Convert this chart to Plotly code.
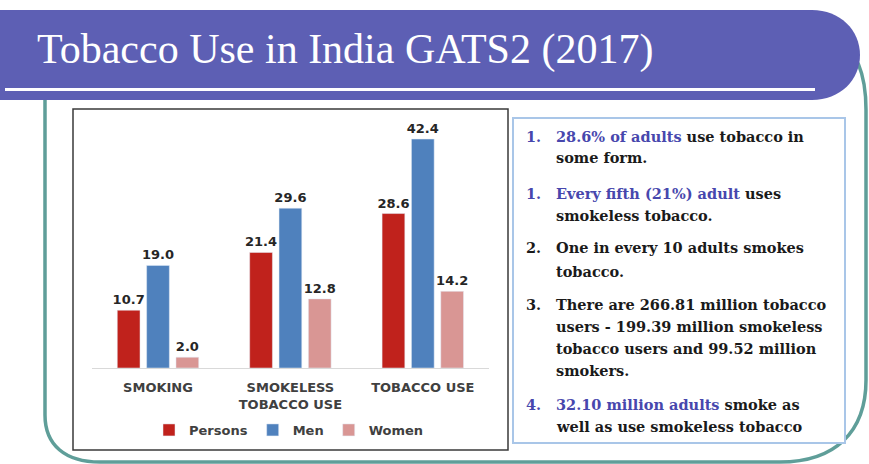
import plotly.graph_objects as go

W, H = 869, 464

# Chart data (GATS2 2017, % of adults)
categories = ["SMOKING", "SMOKELESS<br>TOBACCO USE", "TOBACCO USE"]
persons = [10.7, 21.4, 28.6]
men = [19.0, 29.6, 42.4]
women = [2.0, 12.8, 14.2]
series_names = ["Persons", "Men", "Women"]
series_colors = ["#c0221c", "#4f81bd", "#d99694"]

title_text = "Tobacco Use in India GATS2 (2017)"

BLUE = "#4747ad"
DARK = "#1a1a1a"

# Key findings: (number, number colour, list of lines)
findings = [
    ("1.", BLUE, [f"<span style='color:{BLUE}'>28.6% of adults</span> use tobacco in",
                  "some form."]),
    ("1.", BLUE, [f"<span style='color:{BLUE}'>Every fifth (21%) adult</span> uses",
                  "smokeless tobacco."]),
    ("2.", DARK, ["One in every 10 adults smokes",
                  "tobacco."]),
    ("3.", DARK, ["There are 266.81 million tobacco",
                  "users - 199.39 million smokeless",
                  "tobacco users and 99.52 million",
                  "smokers."]),
    ("4.", BLUE, [f"<span style='color:{BLUE}'>32.10 million adults</span> smoke as",
                  "well as use smokeless tobacco"]),
]
finding_line_y = [[136, 157], [193, 215], [248, 271], [304, 326, 348, 370], [404, 426]]


def px(x):
    return x / W


def py(y):
    return 1 - y / H


fig = go.Figure()
for name, vals, col in zip(series_names, [persons, men, women], series_colors):
    fig.add_trace(go.Bar(
        x=categories, y=vals, name=name, marker_color=col,
        texttemplate="%{y:.1f}", textposition="outside", constraintext="none",
        textfont=dict(family="DejaVu Sans", size=13, color="#262626", weight="bold"),
        cliponaxis=False,
    ))


# Slide decoration shapes (pixel coordinates converted to paper units)
def P(x, y):
    return f"{px(x):.5f},{py(y):.5f}"


teal_path = (f"M {P(45, 70)} L {P(45, 415)} C {P(45, 445)} {P(65, 462)} {P(100, 462)} "
             f"L {P(780, 462)} C {P(835, 462)} {P(866, 432)} {P(866, 380)} "
             f"L {P(866, 110)} C {P(866, 75)} {P(858, 50)} {P(830, 30)}")
banner_path = (f"M {P(0, 10)} L {P(812, 10)} C {P(840, 10)} {P(860, 30)} {P(860, 55)} "
               f"C {P(860, 80)} {P(840, 100)} {P(812, 100)} L {P(0, 100)} Z")

shapes = [
    dict(type="path", path=teal_path, xref="paper", yref="paper",
         line=dict(color="#5f9e99", width=3.5), layer="below"),
    dict(type="path", path=banner_path, xref="paper", yref="paper",
         fillcolor="#5d5fb4", line=dict(width=0), layer="below"),
    dict(type="rect", xref="paper", yref="paper", x0=px(5), x1=px(815), y0=py(88), y1=py(91),
         fillcolor="white", line=dict(width=0), layer="below"),
    dict(type="rect", xref="paper", yref="paper", x0=px(73), x1=px(508), y0=py(109), y1=py(450),
         fillcolor="white", line=dict(color="#3a3a3a", width=1.5), layer="below"),
    dict(type="rect", xref="paper", yref="paper", x0=px(513), x1=px(845), y0=py(118), y1=py(443),
         fillcolor="white", line=dict(color="#a9c6e8", width=2), layer="below"),
]

annotations = [
    dict(text=title_text, x=px(35), y=py(49), xref="paper", yref="paper",
         xanchor="left", yanchor="middle", showarrow=False,
         font=dict(family="Liberation Serif", size=42, color="white")),
]
for (num, numcol, lines), ys in zip(findings, finding_line_y):
    annotations.append(dict(text=f"<b>{num}</b>", x=px(524), y=py(ys[0]), xref="paper", yref="paper",
                            xanchor="left", yanchor="middle", showarrow=False,
                            font=dict(family="DejaVu Serif", size=14.5, color=numcol)))
    for ln, yy in zip(lines, ys):
        annotations.append(dict(text=f"<b>{ln}</b>", x=px(554), y=py(yy), xref="paper", yref="paper",
                                xanchor="left", yanchor="middle", showarrow=False,
                                font=dict(family="DejaVu Serif", size=14.5, color=DARK)))

fig.update_layout(
    width=W, height=H, margin=dict(l=0, r=0, t=0, b=0),
    paper_bgcolor="white", plot_bgcolor="rgba(0,0,0,0)",
    barmode="group", bargap=0.335, bargroupgap=0.225,
    shapes=shapes, annotations=annotations,
    showlegend=True,
    legend=dict(orientation="h", x=px(289), xanchor="center", y=py(430), yanchor="middle",
                itemwidth=30,
                font=dict(family="DejaVu Sans", size=13, color="#404040", weight="bold"),
                bgcolor="rgba(0,0,0,0)", itemclick=False, itemdoubleclick=False),
    xaxis=dict(domain=[px(91.8), px(489)], showline=True, linecolor="#d9d9d9", linewidth=1,
               ticks="", showgrid=False, zeroline=False, ticklabelstandoff=7,
               tickfont=dict(family="DejaVu Sans", size=13, color="#404040", weight="bold")),
    yaxis=dict(domain=[py(368), py(125)], range=[0, 45], visible=False),
)

fig.write_html("out.html")
